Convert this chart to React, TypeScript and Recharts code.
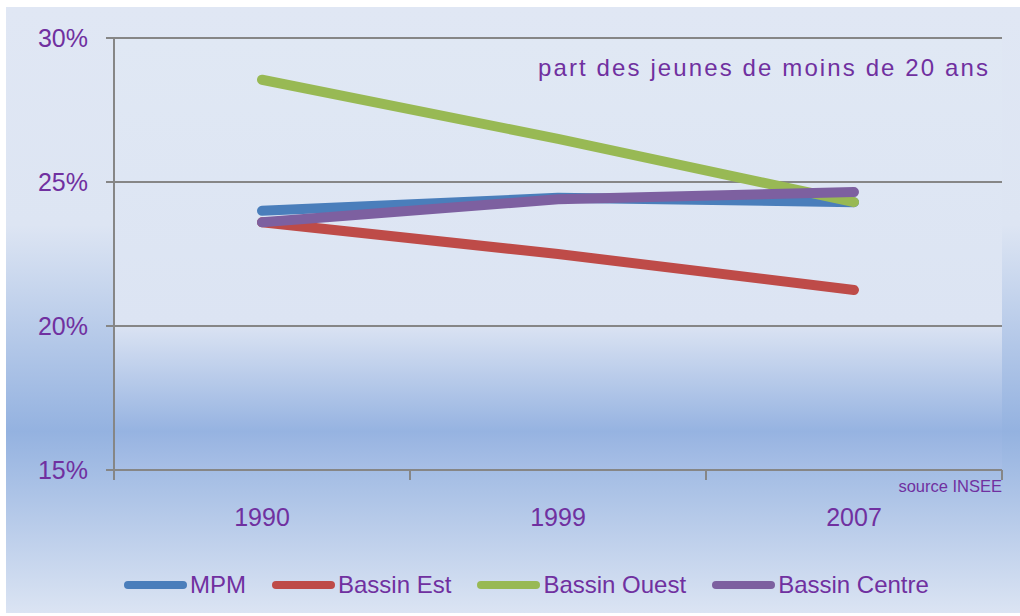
import React from "react";
import {
  LineChart,
  Line,
  XAxis,
  YAxis,
  CartesianGrid,
  Legend,
} from "recharts";

const YEARS = ["1990", "1999", "2007"];
const MPM = [24.0, 24.45, 24.3];
const BASSIN_EST = [23.6, 22.5, 21.25];
const BASSIN_OUEST = [28.55, 26.5, 24.3];
const BASSIN_CENTRE = [23.6, 24.4, 24.65];
const Y_TICKS = [15, 20, 25, 30];

const SERIES = [
  { key: "mpm", name: "MPM", color: "#4a7ebb", values: MPM },
  { key: "est", name: "Bassin Est", color: "#be4b48", values: BASSIN_EST },
  { key: "ouest", name: "Bassin Ouest", color: "#98b954", values: BASSIN_OUEST },
  { key: "centre", name: "Bassin Centre", color: "#7d60a0", values: BASSIN_CENTRE },
];

const data = YEARS.map((year, i) => {
  const row: Record<string, string | number> = { year };
  SERIES.forEach((s) => {
    row[s.key] = s.values[i];
  });
  return row;
});

const TEXT = "#7030a0";
const AXIS = "#868686";
const FONT = "'Liberation Sans', Arial, sans-serif";
const TICK_SIZE = 10;
const TICK_MARGIN = 28;

// category ticks sit between the years (Excel style), labels at band centres
function YearTick(props: any) {
  const { x, y, payload, index, visibleTicksCount } = props;
  const half = payload?.offset ?? 0;
  const axisY = y - TICK_SIZE - TICK_MARGIN;
  const last = index === visibleTicksCount - 1;
  return (
    <g>
      <line x1={x - half} x2={x - half} y1={axisY} y2={axisY + TICK_SIZE} stroke={AXIS} strokeWidth={2} />
      {last && (
        <line x1={x + half} x2={x + half} y1={axisY} y2={axisY + TICK_SIZE} stroke={AXIS} strokeWidth={2} />
      )}
      <text x={x} y={y} dy="0.71em" textAnchor="middle" fill={TEXT} fontSize={25} fontFamily={FONT}>
        {payload.value}
      </text>
    </g>
  );
}

function LegendContent() {
  return (
    <div
      style={{
        display: "flex",
        alignItems: "center",
        paddingLeft: 118,
        height: 40,
        gap: 26,
        fontFamily: FONT,
        fontSize: 24,
        color: TEXT,
      }}
    >
      {SERIES.map((s) => (
        <div key={s.key} style={{ display: "flex", alignItems: "center" }}>
          <span
            style={{
              display: "inline-block",
              width: 63,
              height: 8,
              borderRadius: 4,
              background: s.color,
              marginRight: 3,
            }}
          />
          <span style={{ lineHeight: "24px" }}>{s.name}</span>
        </div>
      ))}
    </div>
  );
}

export default function App() {
  return (
    <div
      style={{
        position: "absolute",
        left: 6,
        top: 7,
        width: 1014,
        height: 606,
        background:
          "linear-gradient(to bottom, #e0e7f4 0%, #dde5f3 36%, #94b2e0 70%, #dbe4f3 100%)",
      }}
    >
      <LineChart
        width={1014}
        height={606}
        data={data}
        margin={{ top: 31, right: 18, left: 0, bottom: 8 }}
        style={{ fontFamily: FONT }}
      >
        <defs>
          <linearGradient id="plotBg" x1="0" y1="0" x2="0" y2="1">
            <stop offset="0%" stopColor="#e0e8f4" />
            <stop offset="66%" stopColor="#dce4f3" />
            <stop offset="91%" stopColor="#96b3e1" />
            <stop offset="100%" stopColor="#a8bfe6" />
          </linearGradient>
        </defs>
        <CartesianGrid
          vertical={false}
          stroke={AXIS}
          strokeWidth={2}
          fill="url(#plotBg)"
          fillOpacity={1}
        />
        <XAxis
          dataKey="year"
          scale="band"
          axisLine={{ stroke: AXIS, strokeWidth: 2 }}
          tickLine={false}
          tickSize={TICK_SIZE}
          tickMargin={TICK_MARGIN}
          height={95}
          interval={0}
          tick={<YearTick />}
        />
        <YAxis
          domain={[15, 30]}
          ticks={Y_TICKS}
          width={108}
          tickSize={8}
          tickMargin={18}
          tickFormatter={(v) => `${v}%`}
          axisLine={{ stroke: AXIS, strokeWidth: 2 }}
          tickLine={{ stroke: AXIS, strokeWidth: 2 }}
          tick={{ fill: TEXT, fontSize: 25, fontFamily: FONT }}
        />
        <Legend
          verticalAlign="bottom"
          height={40}
          wrapperStyle={{ left: 0, width: 1014 }}
          content={<LegendContent />}
        />
        {SERIES.map((s) => (
          <Line
            key={s.key}
            dataKey={s.key}
            name={s.name}
            stroke={s.color}
            strokeWidth={10}
            strokeLinecap="round"
            strokeLinejoin="round"
            dot={false}
            activeDot={false}
            isAnimationActive={false}
          />
        ))}
      </LineChart>
      <svg
        width={1014}
        height={606}
        style={{ position: "absolute", left: 0, top: 0, pointerEvents: "none" }}
      >
        <text
          x={532}
          y={69}
          fill={TEXT}
          fontSize={24}
          fontFamily={FONT}
          textLength={450}
          lengthAdjust="spacing"
        >
          part des jeunes de moins de 20 ans
        </text>
        <text
          x={996}
          y={485}
          fill={TEXT}
          fontSize={16.5}
          fontFamily={FONT}
          textAnchor="end"
        >
          source INSEE
        </text>
      </svg>
    </div>
  );
}
